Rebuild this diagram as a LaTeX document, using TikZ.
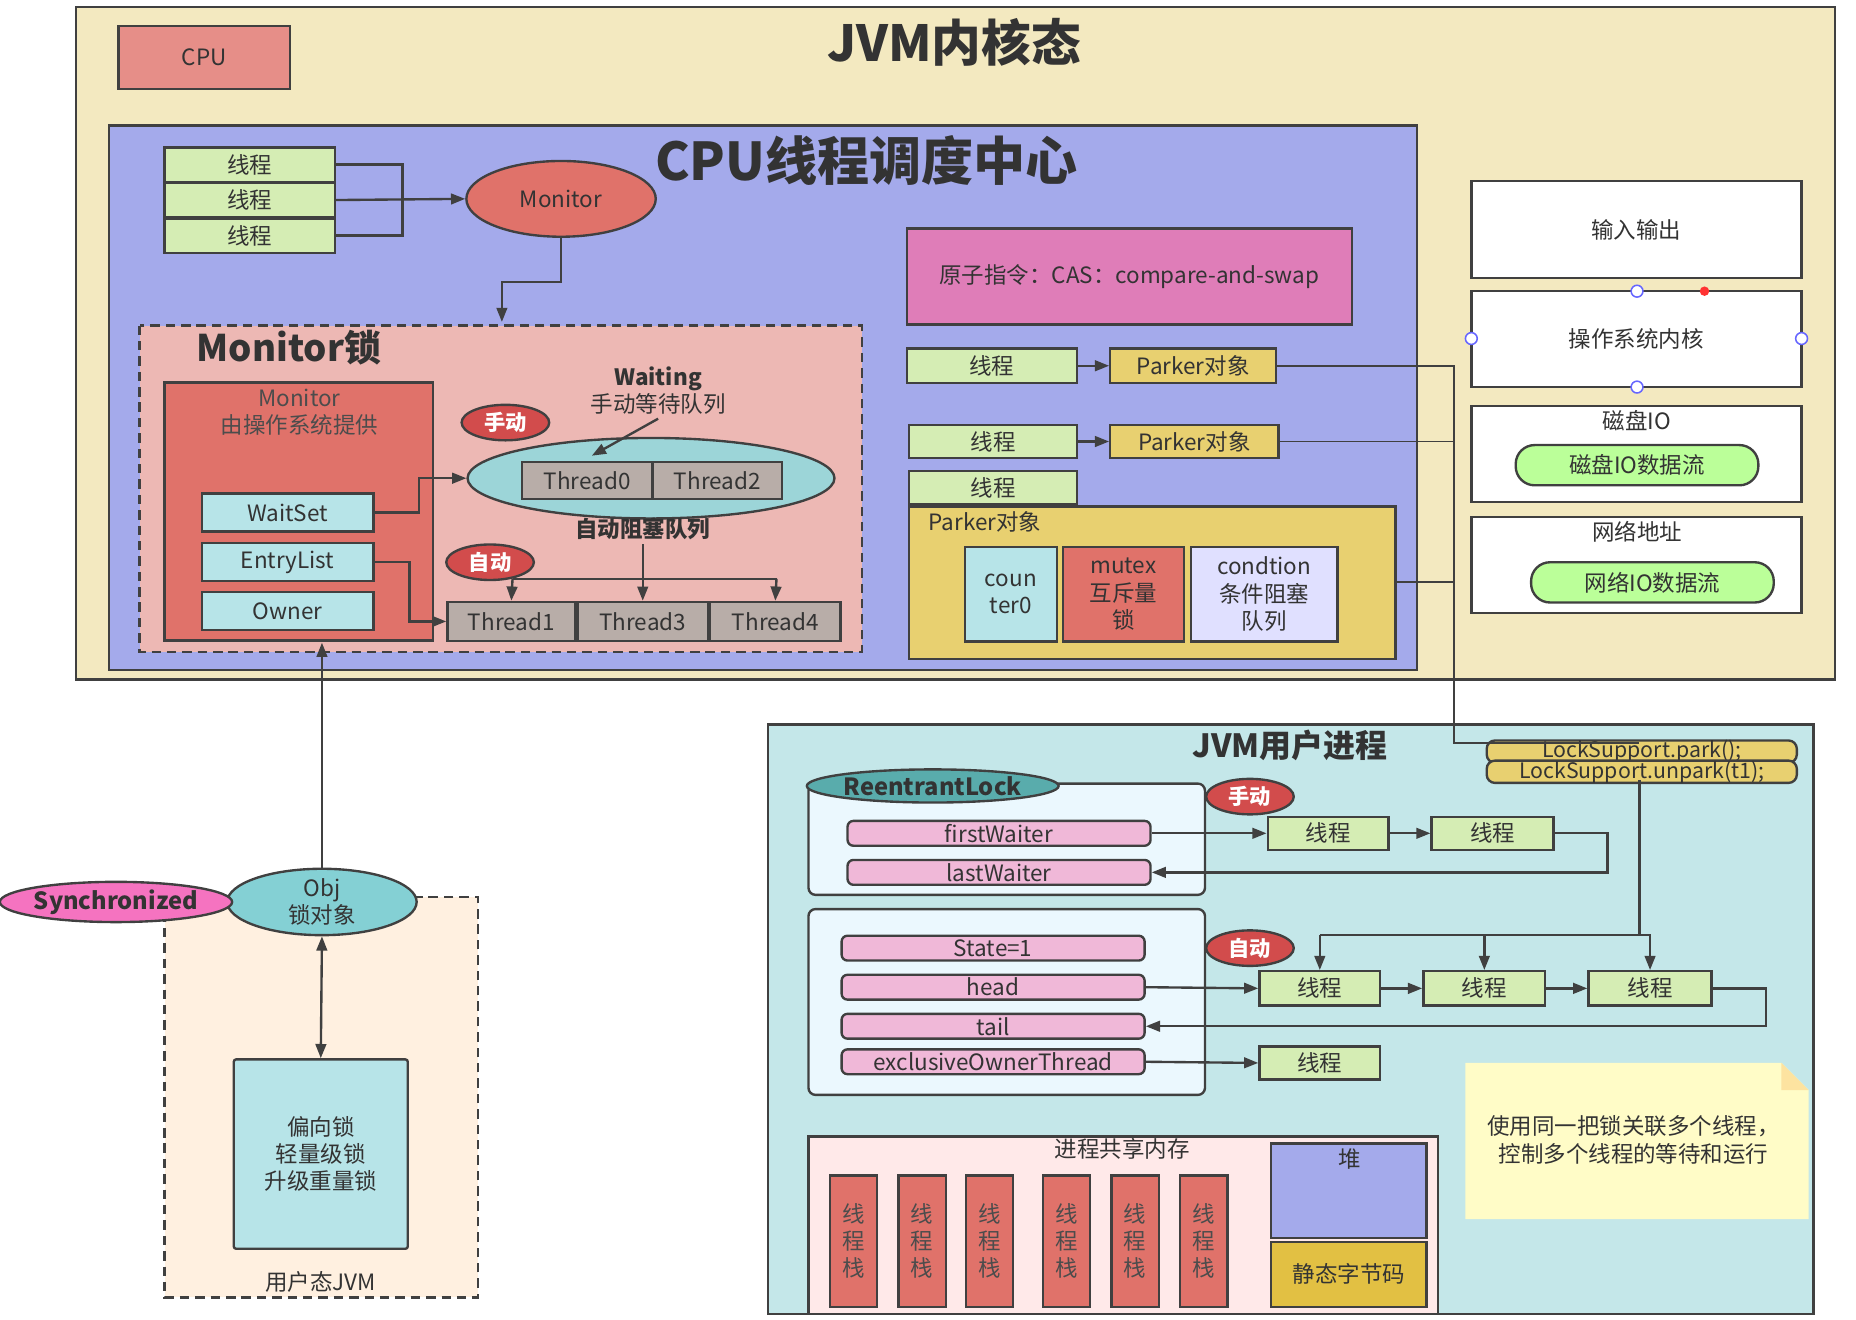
\documentclass[tikz,border=0pt]{standalone}
\usepackage{fontspec}
\setmainfont{Noto Sans CJK SC}
\usetikzlibrary{arrows.meta,shapes.geometric}
\definecolor{outer}{HTML}{F3E9C0}
\definecolor{cpuc}{HTML}{A4AAEB}
\definecolor{gr}{HTML}{D5EDB4}
\definecolor{mred}{HTML}{E0726A}
\definecolor{mpink}{HTML}{EDB8B4}
\definecolor{cy}{HTML}{B7E4E8}
\definecolor{gy}{HTML}{B8ADA8}
\definecolor{yl}{HTML}{E8D070}
\definecolor{pk}{HTML}{F0B8D8}
\definecolor{cas}{HTML}{DF7DB8}
\definecolor{objc}{HTML}{84D0D4}
\definecolor{usr}{HTML}{C4E7E9}
\definecolor{mus}{HTML}{E2C043}
\begin{document}
\begin{tikzpicture}[x=1pt,y=-1pt,
  every node/.style={font=\fontsize{19}{23}\selectfont, text=black!80},
  box/.style={draw=black!75, line width=2pt},
  ln/.style={draw=black!75, line width=2pt},
  ar/.style={ln,-{Triangle[length=12pt,width=9pt]}},
  lbl/.style={midway, align=center},
  tag/.style={ellipse, draw=black!75, line width=2pt, fill=red!75!black!70, text=white, font=\bfseries\fontsize{18}{20}\selectfont, inner sep=1pt, minimum width=74pt, minimum height=30pt}]
\useasboundingbox (0,0) rectangle (1568,1115);
% outer
\draw[box,fill=outer] (64,6) rectangle (1550,574);
\draw[box,fill=mred!80] (100,22) rectangle node[lbl]{CPU} (245,75);
\node[font=\bfseries\fontsize{42}{46}\selectfont] (t1) at (806,36) {JVM内核态};
\draw[box,fill=cpuc] (92,106) rectangle (1197,566);
\node[font=\bfseries\fontsize{44}{48}\selectfont] (t2) at (732,136) {CPU线程调度中心};
% threads to monitor
\node[box,fill=gr,minimum width=144pt,minimum height=29pt,inner sep=0] (a1) at (211,139) {线程};
\node[box,fill=gr,minimum width=144pt,minimum height=29pt,inner sep=0] (a2) at (211,169) {线程};
\node[box,fill=gr,minimum width=144pt,minimum height=29pt,inner sep=0] (a3) at (211,199) {线程};
\node[ellipse,box,fill=mred,minimum width=160pt,minimum height=64pt] (mon) at (474,168) {Monitor};
\draw[ln] (a1.east) -- (340,139) -- (340,199) -- (a3.east);
\draw[ar] (a2.east) -- (mon.west);
\coordinate (mb) at (424,272);
\draw[ar] (mon.south) |- (424,238) -- (mb);
% monitor lock
\draw[box,dashed,dash pattern=on 8pt off 5pt,fill=mpink] (118,275) rectangle (728,551);
\node[font=\bfseries\fontsize{31}{34}\selectfont] (t3) at (244,294) {Monitor锁};
\draw[box,fill=mred] (139,323) rectangle (366,541);
\node[align=center,text=black!70] (t4) at (253,348) {Monitor\\由操作系统提供};
\node[box,fill=cy,minimum width=145pt,minimum height=32pt,inner sep=0] (ws) at (243,433) {WaitSet};
\node[box,fill=cy,minimum width=145pt,minimum height=32pt,inner sep=0] (el) at (243,475) {EntryList};
\node[box,fill=cy,minimum width=145pt,minimum height=32pt,inner sep=0] (ow) at (243,516) {Owner};
\node[ellipse,box,fill=cy!85!teal,minimum width=310pt,minimum height=68pt] (we) at (550,404) {};
\node[box,fill=gy,minimum width=110pt,minimum height=31pt,inner sep=0] (t0) at (496,406) {Thread0};
\node[box,fill=gy,minimum width=109pt,minimum height=31pt,inner sep=0] (t2b) at (606,406) {Thread2};
\node[align=center] (wt) at (556,330) {\textbf{Waiting}\\手动等待队列};
\node[tag] (sd1) at (427,357) {手动};
\draw[ar] (wt.south) -- (500,385);
\draw[ar] (ws.east) -- (354,433) |- (we.west);
\node[font=\bfseries\fontsize{19}{20}\selectfont] (zd) at (543,447) {自动阻塞队列};
\node[tag] (zd1) at (414,475) {自动};
\node[box,fill=gy,minimum width=108pt,minimum height=33pt,inner sep=0] (th1) at (432,525) {Thread1};
\node[box,fill=gy,minimum width=110pt,minimum height=33pt,inner sep=0] (th3) at (543,525) {Thread3};
\node[box,fill=gy,minimum width=110pt,minimum height=33pt,inner sep=0] (th4) at (655,525) {Thread4};
\draw[ln] (433,489) -- (656,489);
\draw[ar] (433,489) -- (th1.north);
\draw[ar] (656,489) -- (th4.north);
\draw[ar] (zd.south) -- (th3.north);
\draw[ar] (el.east) -- (346,475) |- (th1.west);
% CAS
\draw[box,fill=cas] (766,193) rectangle node[lbl]{原子指令：CAS：compare-and-swap} (1142,274);
\node[box,fill=gr,minimum width=144pt,minimum height=29pt,inner sep=0] (p1) at (838,309) {线程};
\node[box,fill=yl,minimum width=140pt,minimum height=29pt,inner sep=0] (k1) at (1008,309) {Parker对象};
\node[box,fill=gr,minimum width=142pt,minimum height=28pt,inner sep=0] (p2) at (839,373) {线程};
\node[box,fill=yl,minimum width=142pt,minimum height=28pt,inner sep=0] (k2) at (1009,373) {Parker对象};
\node[box,fill=gr,minimum width=142pt,minimum height=28pt,inner sep=0] (p3) at (839,412) {线程};
\draw[ar] (p1.east) -- (k1.west);
\draw[ar] (p2.east) -- (k2.west);
\draw[box,fill=yl] (768,428) rectangle (1179,557);
\coordinate (kb) at (1179,492);
\node (pl) at (832,441) {Parker对象};
\draw[box,fill=cy] (815,462) rectangle node[lbl]{coun\\ter0} (893,542);
\draw[box,fill=mred] (898,462) rectangle node[lbl]{mutex\\互斥量\\锁} (1000,542);
\draw[box,fill=blue!12] (1006,462) rectangle node[lbl]{condtion\\条件阻塞\\队列} (1130,542);
% right boxes
\draw[box,fill=white] (1243,153) rectangle node[lbl]{输入输出} (1522,235);
\draw[box,fill=white] (1243,246) rectangle node[lbl]{操作系统内核} (1522,327);
\foreach \p in {(1383,246),(1383,327),(1243,286),(1522,286)} \draw[blue!60,fill=white,line width=1.3pt] \p circle (5pt);
\fill[red!80] (1440,246) circle (4pt);
\draw[box,fill=white] (1243,343) rectangle (1522,424);
\node (dk) at (1383,355) {磁盘IO};
\node[box,rounded corners=16pt,fill=green!55!lime!40,minimum width=205pt,minimum height=34pt] (dk2) at (1383,393) {磁盘IO数据流};
\draw[box,fill=white] (1243,437) rectangle (1522,518);
\node (nw) at (1383,449) {网络地址};
\node[box,rounded corners=16pt,fill=green!55!lime!40,minimum width=205pt,minimum height=34pt] (nw2) at (1396,492) {网络IO数据流};
% JVM user process
\draw[box,fill=usr] (649,612) rectangle (1532,1110);
\node[font=\bfseries\fontsize{27}{30}\selectfont] (t5) at (1090,630) {JVM用户进程};
\node[box,rounded corners=7pt,fill=yl,minimum width=262pt,minimum height=15pt,inner sep=0,font=\fontsize{18}{17}\selectfont] (lk1) at (1387,635) {LockSupport.park();};
\node[box,rounded corners=7pt,fill=yl,minimum width=262pt,minimum height=15pt,inner sep=0,font=\fontsize{18}{17}\selectfont] (lk2) at (1387,652) {LockSupport.unpark(t1);};
\coordinate (ls) at (1385,628);
\draw[ln,line width=1.6pt] (k1.east) -- (1228,309) -- (1228,628) -- (ls);
\draw[ln,line width=1.6pt] (k2.east) -- (1228,373);
\draw[ln,line width=1.6pt] (kb) -- (1228,492);
\draw[box,rounded corners=6pt,fill=cyan!8] (683,662) rectangle (1018,756);
\node[ellipse,box,fill=teal!65,minimum width=200pt,minimum height=28pt,inner sep=0,font=\bfseries\fontsize{20}{20}\selectfont] (rl) at (788,664) {ReentrantLock};
\tikzset{pill/.style={box,rounded corners=5pt,fill=pk,minimum width=256pt,minimum height=21pt,inner sep=0}}
\node[pill] (fw) at (844,704) {firstWaiter};
\node[pill] (lw) at (844,737) {lastWaiter};
\node[tag] (sd2) at (1056,673) {手动};
\node[box,fill=gr,minimum width=102pt,minimum height=28pt,inner sep=0] (q1) at (1122,704) {线程};
\node[box,fill=gr,minimum width=103pt,minimum height=28pt,inner sep=0] (q2) at (1261,704) {线程};
\draw[ar] (fw.east) -- (q1.west);
\draw[ar] (q1.east) -- (q2.west);
\draw[ar] (q2.east) -- (1358,704) |- (lw.east);
\draw[box,rounded corners=6pt,fill=cyan!8] (683,768) rectangle (1018,925);
\node[pill] (st) at (839,801) {State=1};
\node[pill] (hd) at (839,834) {head};
\node[pill] (tl) at (839,867) {tail};
\node[pill] (eo) at (839,897) {exclusiveOwnerThread};
\node[tag] (zd2) at (1056,801) {自动};
\node[box,fill=gr,minimum width=102pt,minimum height=29pt,inner sep=0] (r1) at (1115,835) {线程};
\node[box,fill=gr,minimum width=103pt,minimum height=29pt,inner sep=0] (r2) at (1254,835) {线程};
\node[box,fill=gr,minimum width=104pt,minimum height=29pt,inner sep=0] (r3) at (1394,835) {线程};
\node[box,fill=gr,minimum width=102pt,minimum height=28pt,inner sep=0] (r4) at (1115,898) {线程};
\draw[ar] (hd.east) -- (r1.west);
\draw[ar] (r1.east) -- (r2.west);
\draw[ar] (r2.east) -- (r3.west);
\draw[ar] (r3.east) -- (1492,835) |- (tl.east);
\draw[ar] (eo.east) -- (r4.west);
\coordinate (lb) at (1385,659);
\draw[ln] (lb) -- (1385,790) -- (1115,790);
\draw[ar] (1115,790) -- (r1.north);
\draw[ar] (1254,790) -- (r2.north);
\draw[ar] (1385,790) -- (1394,790) -- (r3.north);
% note
\fill[yellow!22] (1238,898) -- (1505,898) -- (1528,921) -- (1528,1030) -- (1238,1030) -- cycle;
\fill[yellow!45!orange!35] (1505,898) -- (1505,921) -- (1528,921) -- cycle;
\node[align=center] (nt) at (1380,963) {使用同一把锁关联多个线程，\\控制多个线程的等待和运行};
% shared memory
\draw[box,fill=pink!35] (683,960) rectangle (1215,1110);
\node (sm) at (948,971) {进程共享内存};
\foreach \x in {701,759,816,881,939,997} \draw[box,fill=mred] (\x,993) rectangle node[lbl,text=black!70]{线\\程\\栈} (\x+40,1104);
\draw[box,fill=cpuc] (1074,966) rectangle (1205,1046);
\node (hp) at (1140,979) {堆};
\draw[box,fill=mus] (1074,1049) rectangle node[lbl]{静态字节码} (1205,1104);
% user JVM
\draw[box,dash pattern=on 8pt off 5pt,fill=orange!12] (139,758) rectangle (404,1096);
\node (uj) at (271,1083) {用户态JVM};
\node[box,fill=cy,minimum width=147pt,minimum height=160pt,align=center,rounded corners=2pt] (bx) at (271,975) {偏向锁\\轻量级锁\\升级重量锁};
\node[ellipse,box,fill=objc,minimum width=160pt,minimum height=54pt,align=center,inner sep=0] (obj) at (272,762) {Obj\\锁对象};
\node[ellipse,box,fill=magenta!55,minimum width=186pt,minimum height=34pt,inner sep=0,font=\bfseries\fontsize{20}{20}\selectfont] (sy) at (98,762) {Synchronized};
\draw[ln,{Triangle[length=12pt,width=9pt]}-{Triangle[length=12pt,width=9pt]}] (obj.south) -- (bx.north);
\coordinate (mk) at (272,543);
\draw[ar] (obj.north) -- (mk);
\end{tikzpicture}
\end{document}
